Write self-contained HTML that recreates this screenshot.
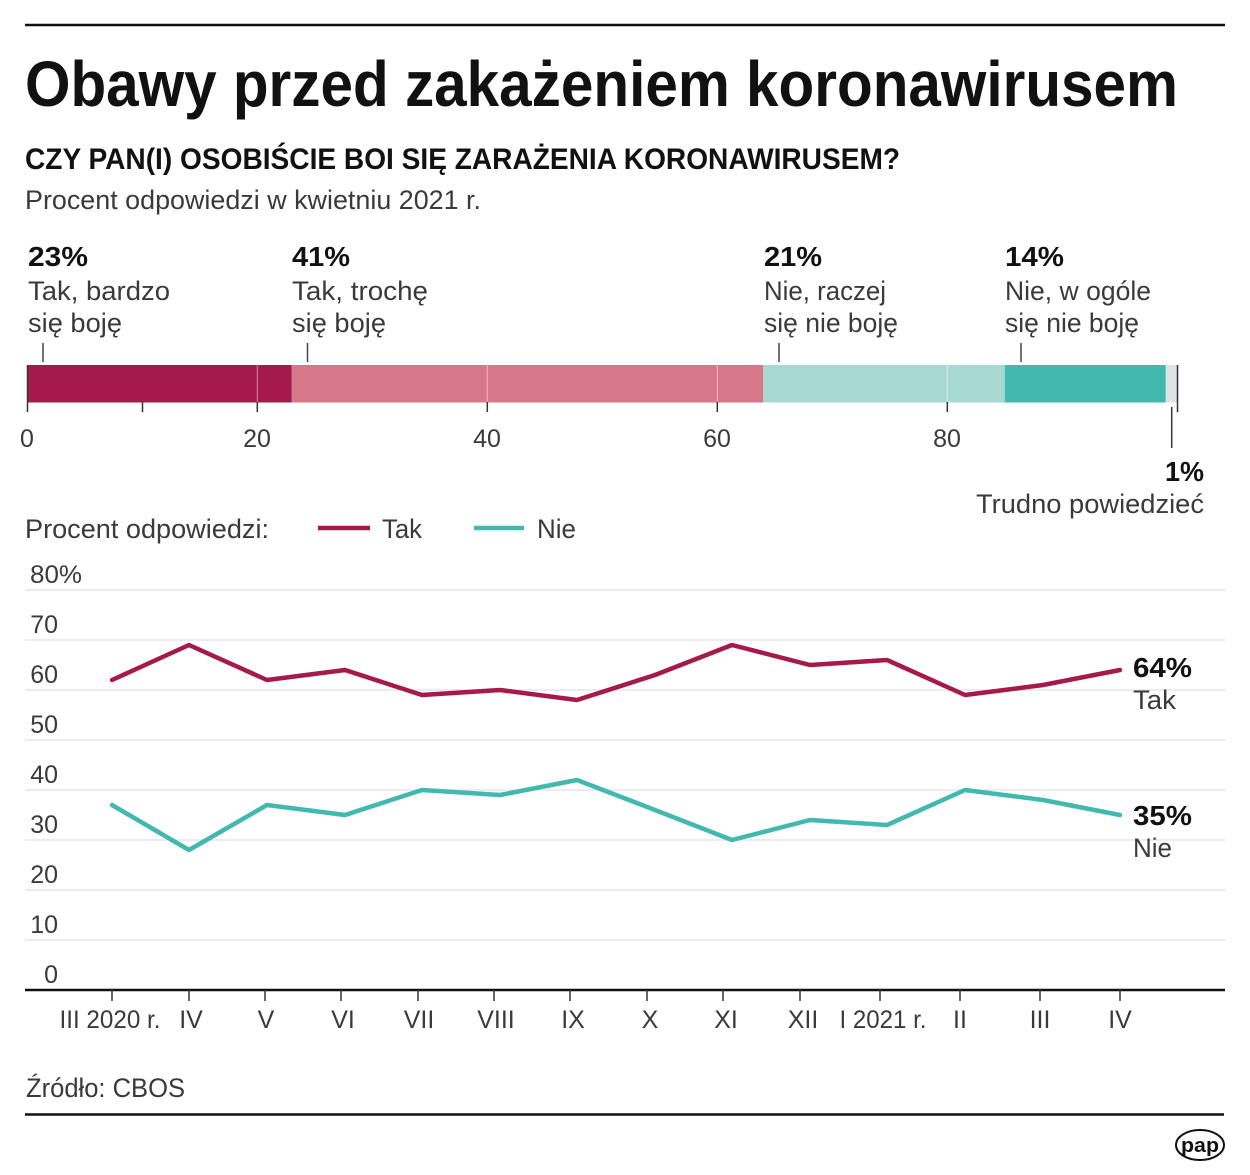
<!DOCTYPE html>
<html><head><meta charset="utf-8"><style>
html,body{margin:0;padding:0;background:#fff;}
svg{display:block;}
text{font-family:"Liberation Sans",sans-serif;}
.b{font-weight:bold;fill:#111;}
.l{fill:#3a3a3a;}
</style></head><body>
<svg width="1250" height="1175" viewBox="0 0 1250 1175" xmlns="http://www.w3.org/2000/svg">
<rect width="1250" height="1175" fill="#fff"/>
<line x1="25" y1="25" x2="1225" y2="25" stroke="#111" stroke-width="2.5"/>
<text class="b" x="25" y="106" font-size="64" textLength="1153" lengthAdjust="spacingAndGlyphs">Obawy przed zakażeniem koronawirusem</text>
<text class="b" x="25" y="169" font-size="30" textLength="875" lengthAdjust="spacingAndGlyphs">CZY PAN(I) OSOBIŚCIE BOI SIĘ ZARAŻENIA KORONAWIRUSEM?</text>
<text class="l" x="25" y="209" font-size="27" textLength="456" lengthAdjust="spacingAndGlyphs">Procent odpowiedzi w kwietniu 2021 r.</text>

<!-- bar labels -->
<text class="b" x="28" y="266" font-size="28" textLength="60" lengthAdjust="spacingAndGlyphs">23%</text>
<text class="l" x="28" y="300" font-size="27" textLength="142" lengthAdjust="spacingAndGlyphs">Tak, bardzo</text>
<text class="l" x="28" y="332" font-size="27" textLength="94" lengthAdjust="spacingAndGlyphs">się boję</text>
<text class="b" x="292" y="266" font-size="28" textLength="58" lengthAdjust="spacingAndGlyphs">41%</text>
<text class="l" x="292" y="300" font-size="27" textLength="136" lengthAdjust="spacingAndGlyphs">Tak, trochę</text>
<text class="l" x="292" y="332" font-size="27" textLength="94" lengthAdjust="spacingAndGlyphs">się boję</text>
<text class="b" x="764" y="266" font-size="28" textLength="58" lengthAdjust="spacingAndGlyphs">21%</text>
<text class="l" x="764" y="300" font-size="27" textLength="122" lengthAdjust="spacingAndGlyphs">Nie, raczej</text>
<text class="l" x="764" y="332" font-size="27" textLength="134" lengthAdjust="spacingAndGlyphs">się nie boję</text>
<text class="b" x="1005" y="266" font-size="28" textLength="59" lengthAdjust="spacingAndGlyphs">14%</text>
<text class="l" x="1005" y="300" font-size="27" textLength="146" lengthAdjust="spacingAndGlyphs">Nie, w ogóle</text>
<text class="l" x="1005" y="332" font-size="27" textLength="134" lengthAdjust="spacingAndGlyphs">się nie boję</text>

<g stroke="#444" stroke-width="1.5">
<line x1="43" y1="343" x2="43" y2="362"/>
<line x1="307.5" y1="343" x2="307.5" y2="362"/>
<line x1="779" y1="343" x2="779" y2="362"/>
<line x1="1021" y1="343" x2="1021" y2="362"/>
</g>

<!-- stacked bar -->
<rect x="27.3" y="365" width="264.5" height="37.5" fill="#a6194b"/>
<rect x="291.8" y="365" width="471.5" height="37.5" fill="#d7788a"/>
<rect x="763.3" y="365" width="241.5" height="37.5" fill="#a7d8d1"/>
<rect x="1004.8" y="365" width="161" height="37.5" fill="#41b9ae"/>
<rect x="1165.8" y="365" width="11.5" height="37.5" fill="#dfe3e6"/>
<g stroke="#fff" stroke-opacity="0.5" stroke-width="1">
<line x1="257.3" y1="365" x2="257.3" y2="402.5"/>
<line x1="487.3" y1="365" x2="487.3" y2="402.5"/>
<line x1="717.3" y1="365" x2="717.3" y2="402.5"/>
<line x1="947.3" y1="365" x2="947.3" y2="402.5"/>
</g>
<g stroke="#333" stroke-width="1.5">
<line x1="27.5" y1="365" x2="27.5" y2="412"/>
<line x1="142.5" y1="402" x2="142.5" y2="412"/>
<line x1="257.3" y1="402" x2="257.3" y2="412"/>
<line x1="487.3" y1="402" x2="487.3" y2="412"/>
<line x1="717.3" y1="402" x2="717.3" y2="412"/>
<line x1="947.3" y1="402" x2="947.3" y2="412"/>
<line x1="1177.5" y1="365" x2="1177.5" y2="412"/>
<line x1="1171.7" y1="407" x2="1171.7" y2="448"/>
</g>
<g class="l" font-size="25" text-anchor="middle">
<text x="27" y="447">0</text>
<text x="257" y="447">20</text>
<text x="487" y="447">40</text>
<text x="717" y="447">60</text>
<text x="947" y="447">80</text>
</g>
<text class="b" x="1165" y="481" font-size="28" textLength="39" lengthAdjust="spacingAndGlyphs">1%</text>
<text class="l" x="976" y="513" font-size="27" textLength="228" lengthAdjust="spacingAndGlyphs">Trudno powiedzieć</text>

<!-- legend -->
<text class="l" x="25" y="538" font-size="27" textLength="244" lengthAdjust="spacingAndGlyphs">Procent odpowiedzi:</text>
<line x1="318" y1="528" x2="370" y2="528" stroke="#a6194b" stroke-width="4.5"/>
<text class="l" x="382" y="538" font-size="27" textLength="40" lengthAdjust="spacingAndGlyphs">Tak</text>
<line x1="474" y1="528" x2="524" y2="528" stroke="#41b9ae" stroke-width="4.5"/>
<text class="l" x="537" y="538" font-size="27" textLength="39" lengthAdjust="spacingAndGlyphs">Nie</text>

<!-- grid -->
<g stroke="#e3e6e9" stroke-width="1.5">
<line x1="25" y1="590" x2="1225" y2="590"/>
<line x1="25" y1="640" x2="1225" y2="640"/>
<line x1="25" y1="690" x2="1225" y2="690"/>
<line x1="25" y1="740" x2="1225" y2="740"/>
<line x1="25" y1="790" x2="1225" y2="790"/>
<line x1="25" y1="840" x2="1225" y2="840"/>
<line x1="25" y1="890" x2="1225" y2="890"/>
<line x1="25" y1="940" x2="1225" y2="940"/>
</g>
<g class="l" font-size="25" text-anchor="end">
<text x="58" y="633">70</text>
<text x="58" y="683">60</text>
<text x="58" y="733">50</text>
<text x="58" y="783">40</text>
<text x="58" y="833">30</text>
<text x="58" y="883">20</text>
<text x="58" y="933">10</text>
<text x="58" y="983">0</text>
</g>
<text class="l" x="30" y="583" font-size="25" textLength="52" lengthAdjust="spacingAndGlyphs">80%</text>

<line x1="25" y1="990" x2="1225" y2="990" stroke="#111" stroke-width="2.5"/>
<g stroke="#333" stroke-width="1.5">
<line x1="112" y1="990" x2="112" y2="1001"/>
<line x1="189" y1="990" x2="189" y2="1001"/>
<line x1="265" y1="990" x2="265" y2="1001"/>
<line x1="341" y1="990" x2="341" y2="1001"/>
<line x1="418" y1="990" x2="418" y2="1001"/>
<line x1="494" y1="990" x2="494" y2="1001"/>
<line x1="570" y1="990" x2="570" y2="1001"/>
<line x1="647" y1="990" x2="647" y2="1001"/>
<line x1="723" y1="990" x2="723" y2="1001"/>
<line x1="800" y1="990" x2="800" y2="1001"/>
<line x1="880" y1="990" x2="880" y2="1001"/>
<line x1="960" y1="990" x2="960" y2="1001"/>
<line x1="1040" y1="990" x2="1040" y2="1001"/>
<line x1="1120" y1="990" x2="1120" y2="1001"/>
</g>
<g class="l" font-size="25" text-anchor="middle">
<text x="110" y="1028" textLength="101" lengthAdjust="spacingAndGlyphs">III 2020 r.</text>
<text x="191" y="1028">IV</text>
<text x="266" y="1028">V</text>
<text x="343" y="1028">VI</text>
<text x="419" y="1028">VII</text>
<text x="496" y="1028">VIII</text>
<text x="573" y="1028">IX</text>
<text x="650" y="1028">X</text>
<text x="726" y="1028">XI</text>
<text x="803" y="1028">XII</text>
<text x="883" y="1028" textLength="87" lengthAdjust="spacingAndGlyphs">I 2021 r.</text>
<text x="960" y="1028">II</text>
<text x="1040" y="1028">III</text>
<text x="1120" y="1028">IV</text>
</g>

<!-- series -->
<polyline fill="none" stroke="#a6194b" stroke-width="4.5" stroke-linejoin="round" stroke-linecap="round"
points="112,680 189,645 267,680 345,670 422,695 500,690 577,700 655,675 732,645 810,665 887,660 965,695 1043,685 1120,670"/>
<polyline fill="none" stroke="#41b9ae" stroke-width="4.5" stroke-linejoin="round" stroke-linecap="round"
points="112,805 189,850 267,805 345,815 422,790 500,795 577,780 655,810 732,840 810,820 887,825 965,790 1043,800 1120,815"/>

<text class="b" x="1133" y="677" font-size="28" textLength="59" lengthAdjust="spacingAndGlyphs">64%</text>
<text class="l" x="1133" y="709" font-size="27" textLength="43" lengthAdjust="spacingAndGlyphs">Tak</text>
<text class="b" x="1133" y="825" font-size="28" textLength="59" lengthAdjust="spacingAndGlyphs">35%</text>
<text class="l" x="1133" y="857" font-size="27" textLength="39" lengthAdjust="spacingAndGlyphs">Nie</text>

<!-- footer -->
<text class="l" x="26" y="1097" font-size="27" textLength="159" lengthAdjust="spacingAndGlyphs">Źródło: CBOS</text>
<line x1="25" y1="1114.5" x2="1224" y2="1114.5" stroke="#111" stroke-width="2.5"/>
<ellipse cx="1200" cy="1145" rx="24" ry="15" fill="#fff" stroke="#111" stroke-width="2"/>
<text x="1200" y="1152" font-size="20" font-weight="bold" text-anchor="middle" fill="#111" textLength="38" lengthAdjust="spacingAndGlyphs">pap</text>
</svg>
</body></html>
